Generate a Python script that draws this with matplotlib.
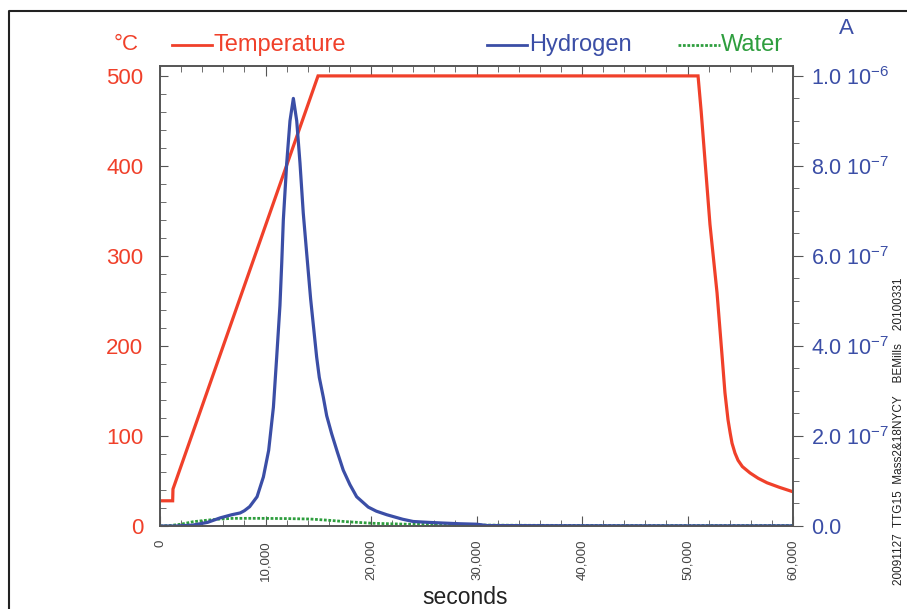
import matplotlib
matplotlib.use("Agg")
import matplotlib.pyplot as plt
from matplotlib.lines import Line2D
from matplotlib.ticker import MultipleLocator, FuncFormatter

plt.rcParams["font.family"] = ["Liberation Sans", "DejaVu Sans"]

# temperature program (seconds, degC)
temp_t = [200, 1200, 1230, 14980, 51000, 51300, 52130, 52800, 53270, 53550,
          53840, 54050, 54220, 54500, 54790, 55200, 55920, 56700, 57540,
          58700, 60000]
temp_c = [28, 28, 41, 500, 500, 460, 335, 259, 190, 148,
          118, 103, 92, 81, 73, 66, 59, 53, 48, 43, 38]

# hydrogen ion current (units of 1e-7 A)
h2_t = [0, 1500, 3100, 4500, 5700, 6800, 7600, 8000, 8500, 9200, 9800, 10300,
        10750, 11060, 11370, 11540, 11690, 12010, 12320, 12640, 12960, 13270,
        13580, 13900, 14280, 14850, 15100, 15480, 15800, 16270, 16800, 17370,
        18000, 18640, 19740, 20500, 21500, 22100, 23000, 24000, 25500, 26800,
        28400, 30000, 31000, 40000, 50000, 60000]
h2_a = [0, 0.0, 0.02, 0.08, 0.18, 0.25, 0.29, 0.34, 0.43, 0.65, 1.09, 1.68,
        2.64, 3.75, 4.9, 5.85, 6.8, 8.06, 9.0, 9.5, 9.0, 8.06,
        6.95, 6.07, 5.04, 3.75, 3.3, 2.86, 2.45, 2.05, 1.65, 1.24,
        0.92, 0.65, 0.42, 0.33, 0.25, 0.21, 0.15, 0.1, 0.08, 0.066,
        0.05, 0.04, 0.01, 0.005, 0.003, 0.003]

# water ion current (units of 1e-7 A)
h2o_t = [0, 950, 2000, 3130, 4500, 5690, 6920, 9480, 12000, 14220, 15830,
         17720, 20190, 23700, 28440, 35000, 45000, 60000]
h2o_a = [0, 0.01, 0.04, 0.095, 0.13, 0.155, 0.17, 0.17, 0.165, 0.155, 0.13,
         0.095, 0.06, 0.038, 0.022, 0.015, 0.01, 0.01]

RED = "#f0402a"
BLUE = "#3b4ea6"
GREEN = "#2e9e3e"
GREY = "#555555"

fig = plt.figure(figsize=(9.07, 6.09), dpi=100)
ax = fig.add_axes([160 / 907, 1 - 526 / 609, 633 / 907, 460 / 609])
ax2 = ax.twinx()

ax.plot(temp_t, temp_c, color=RED, lw=2.3, solid_joinstyle="miter")
ax2.plot(h2o_t, [v * 1e-7 for v in h2o_a], color=GREEN, lw=2.0, ls=(0, (1, 0.6)))
ax2.plot(h2_t, [v * 1e-7 for v in h2_a], color=BLUE, lw=2.3)

ytop = 511
ax.set_xlim(0, 60000)
ax.set_ylim(0, ytop)
ax2.set_ylim(0, ytop * 2e-9)

ax.xaxis.set_major_locator(MultipleLocator(10000))
ax.xaxis.set_minor_locator(MultipleLocator(2000))
ax.xaxis.set_major_formatter(FuncFormatter(lambda v, p: f"{int(v):,}"))
ax.yaxis.set_major_locator(MultipleLocator(100))
ax.yaxis.set_minor_locator(MultipleLocator(20))
ax2.yaxis.set_major_locator(MultipleLocator(2e-7))
ax2.yaxis.set_minor_locator(MultipleLocator(5e-8))


def amp_fmt(v, p):
    if abs(v) < 1e-12:
        return "0.0"
    if abs(v - 1e-6) < 1e-12:
        return r"1.0 10$^{\mathregular{-6}}$"
    return f"{v / 1e-7:.1f}" + r" 10$^{\mathregular{-7}}$"


ax2.yaxis.set_major_formatter(FuncFormatter(amp_fmt))

ax.tick_params(axis="x", which="both", direction="in", top=True, colors=GREY,
               labelsize=9.5, labelcolor="#444444", pad=10)
ax.tick_params(axis="x", which="major", length=7)
ax.tick_params(axis="x", which="minor", length=4)
for lab in ax.get_xticklabels():
    lab.set_rotation(90)
ax.tick_params(axis="y", which="both", direction="in", colors=GREY,
               labelsize=16, labelcolor=RED, pad=12)
ax.tick_params(axis="y", which="major", length=6)
ax.tick_params(axis="y", which="minor", length=4)
ax2.tick_params(axis="y", which="both", direction="out", colors=GREY,
                labelsize=15.5, labelcolor=BLUE, pad=6)
ax2.tick_params(axis="y", which="major", length=7)
ax2.tick_params(axis="y", which="minor", length=4)
for a in (ax, ax2):
    for s in a.spines.values():
        s.set_color(GREY)
        s.set_linewidth(1.2)

# header legend
def key(x0, x1, y, color, ls, label, tx):
    fig.add_artist(Line2D([x0 / 907, x1 / 907], [1 - y / 609] * 2, color=color,
                          lw=2.0, ls=ls))
    fig.text(tx / 907, 1 - y / 609, label, color=color, fontsize=17,
             ha="left", va="center")


key(172, 212, 45, RED, "-", "Temperature", 214)
key(487, 527, 45, BLUE, "-", "Hydrogen", 529)
key(678, 720, 45, GREEN, (0, (1, 0.6)), "Water", 721)
fig.text(126 / 907, 1 - 45 / 609, "°C", color=RED, fontsize=16, ha="center", va="center")
fig.text(846 / 907, 1 - 28 / 609, "A", color=BLUE, fontsize=16, ha="center", va="center")

fig.text(465 / 907, 1 - 598 / 609, "seconds", color="#222222", fontsize=16.5,
         ha="center", va="center")
fig.text(899 / 907, 1 - 585 / 609,
         "20091127  TTG15  Mass2&18NYCY    BEMills    20100331",
         rotation=90, fontsize=8.5, color="#222222", ha="center", va="bottom")

# outer frame
fig.add_artist(Line2D([9 / 907, 9 / 907, 1.0], [0.0, 1 - 11 / 609, 1 - 11 / 609],
                      color="#222222", lw=1.5))

fig.savefig("out.png", dpi=100)
